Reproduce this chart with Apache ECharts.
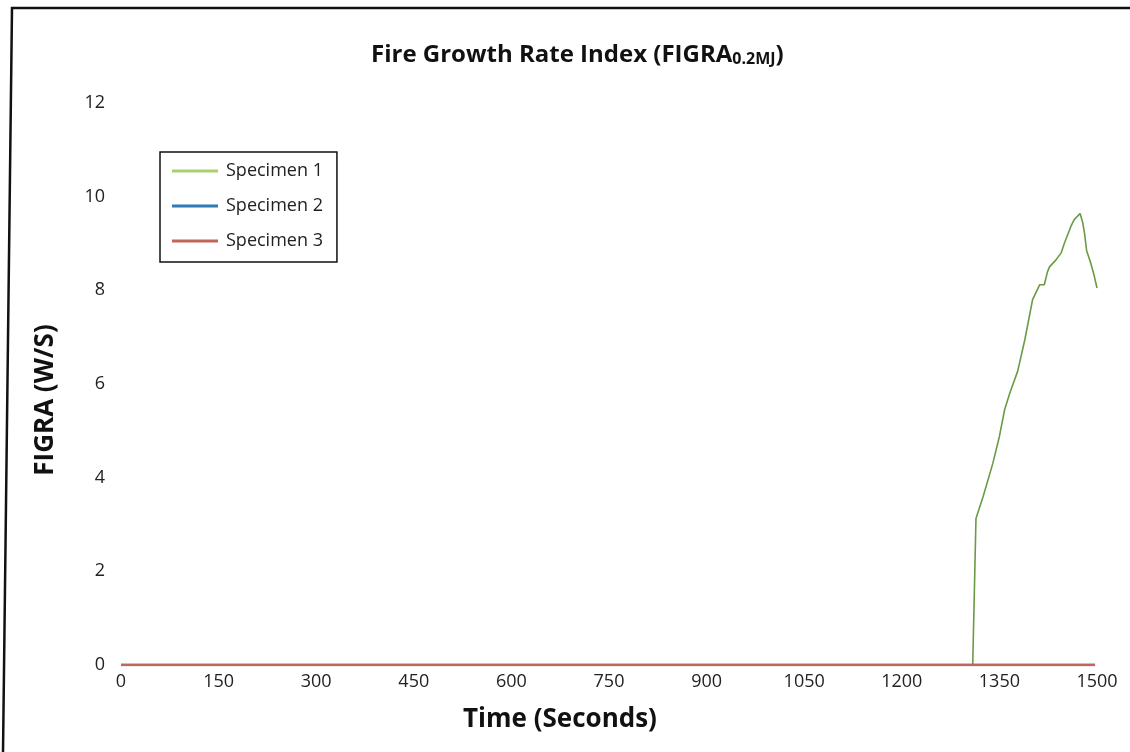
<!DOCTYPE html>
<html>
<head>
<meta charset="utf-8">
<script src="https://cdn.jsdelivr.net/npm/echarts@6/dist/echarts.min.js"></script>
<style>html,body{margin:0;padding:0;background:#fff}#c{width:1130px;height:752px}</style>
</head>
<body>
<div id="c"></div>
<script>
const seriesNames = ['Specimen 1', 'Specimen 2', 'Specimen 3'];
const xTicks = [0, 150, 300, 450, 600, 750, 900, 1050, 1200, 1350, 1500];
const yTicks = [0, 2, 4, 6, 8, 10, 12];
const s1Time = [0, 1309, 1314, 1325, 1340, 1350, 1358, 1366, 1378, 1389, 1401, 1412, 1419, 1424, 1427, 1437, 1445, 1450, 1460, 1465, 1474, 1478, 1481, 1484, 1490, 1495, 1500];
const s1Vals = [0, 0, 3.13, 3.6, 4.31, 4.88, 5.45, 5.81, 6.27, 6.94, 7.8, 8.12, 8.12, 8.4, 8.5, 8.65, 8.8, 9.01, 9.37, 9.51, 9.64, 9.45, 9.2, 8.85, 8.6, 8.35, 8.05];
const s2Time = [0, 1497];
const s2Vals = [0, 0];
const s3Time = [0, 1497];
const s3Vals = [0, 0];

const zip = (a, b) => a.map((v, i) => [v, b[i]]);
const font = '"Open Sans", "Noto Sans", sans-serif';

const chart = echarts.init(document.getElementById('c'));
chart.setOption({
  backgroundColor: '#fff',
  animation: false,
  title: {
    text: '{m|Fire Growth Rate Index (FIGRA}{s|0.2MJ}{m|)}',
    left: 366,
    top: 29,
    textStyle: {
      rich: {
        m: { fontFamily: font, fontSize: 24, fontWeight: 'bold', color: '#111', lineHeight: 33, verticalAlign: 'bottom' },
        s: { fontFamily: font, fontSize: 16, fontWeight: 'bold', color: '#111', lineHeight: 22, padding: [12, 0, 0, 0], verticalAlign: 'bottom' }
      }
    }
  },
  legend: {
    orient: 'vertical',
    left: 160,
    top: 152,
    data: seriesNames,
    itemWidth: 46,
    itemHeight: 3,
    itemGap: 11,
    padding: [7, 14, 9, 12],
    borderColor: '#111',
    borderWidth: 1.5,
    icon: 'rect',
    textStyle: { fontFamily: font, fontSize: 18, lineHeight: 24, color: '#222', padding: [0, 0, 0, 3] }
  },
  grid: { left: 121, right: 33, top: 103, bottom: 87, containLabel: false },
  xAxis: {
    type: 'value',
    min: 0, max: 1500, interval: 150,
    name: 'Time (Seconds)',
    nameLocation: 'middle',
    nameGap: 42,
    nameTextStyle: { fontFamily: font, fontSize: 26, fontWeight: 'bold', color: '#111', padding: [0, 98, 0, 0] },
    axisLine: { show: false },
    axisTick: { show: false },
    splitLine: { show: false },
    axisLabel: { fontFamily: font, fontSize: 18, color: '#222', margin: 8,
      formatter: v => xTicks.includes(v) ? String(v) : '' }
  },
  yAxis: {
    type: 'value',
    min: 0, max: 12, interval: 2,
    name: 'FIGRA (W/S)',
    nameLocation: 'middle',
    nameGap: 62,
    nameTextStyle: { fontFamily: font, fontSize: 26, fontWeight: 'bold', color: '#111', padding: [0, 32, 0, 0] },
    axisLine: { show: false },
    axisTick: { show: false },
    splitLine: { show: false },
    axisLabel: { fontFamily: font, fontSize: 18, color: '#222', margin: 16,
      formatter: v => yTicks.includes(v) ? String(v) : '' }
  },
  series: [
    { name: seriesNames[0], type: 'line', data: zip(s1Time, s1Vals), showSymbol: false,
      lineStyle: { color: '#6b9a45', width: 1.6 }, itemStyle: { color: '#a8d070' } },
    { name: seriesNames[1], type: 'line', data: zip(s2Time, s2Vals), showSymbol: false,
      lineStyle: { color: '#2f7bb5', width: 2.5 }, itemStyle: { color: '#2f7bb5' } },
    { name: seriesNames[2], type: 'line', data: zip(s3Time, s3Vals), showSymbol: false,
      lineStyle: { color: '#c2655a', width: 2.5 }, itemStyle: { color: '#c2655a' } }
  ],
  graphic: [
    { type: 'polyline', shape: { points: [[3, 752], [12, 8], [1130, 8]] },
      style: { stroke: '#111', lineWidth: 2.5, fill: null }, silent: true }
  ]
});
</script>
</body>
</html>
